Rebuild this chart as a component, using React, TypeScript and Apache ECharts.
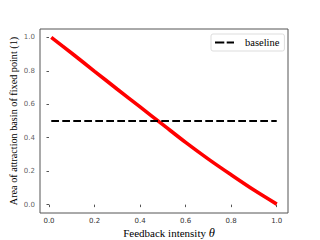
import React, { useEffect, useRef } from "react";
import * as echarts from "echarts";

const thetaValues = [0.01, 0.1, 0.2, 0.3, 0.4, 0.5, 0.6, 0.7, 0.8, 0.9, 1.0];
const areaValues = [1.0, 0.905, 0.797, 0.69, 0.584, 0.478, 0.372, 0.272, 0.178, 0.087, 0.003];
const baselineValues = [0.5, 0.5];
const baselineTheta = [0.01, 1.0];
const xTicks = [0, 0.2, 0.4, 0.6, 0.8, 1.0];
const yTicks = [0, 0.2, 0.4, 0.6, 0.8, 1.0];
const yAxisTitle = "Area of attraction basin of fixed point (1)";
const xAxisTitle = "Feedback intensity ";
const xAxisSymbol = "θ";

const X_MIN = -0.0395;
const X_MAX = 1.0495;

export default function App() {
  const ref = useRef<HTMLDivElement>(null);
  useEffect(() => {
    if (!ref.current) return;
    const chart = echarts.init(ref.current, null, { renderer: "svg" });
    const tickLabel = { fontFamily: "DejaVu Sans", fontSize: 7, color: "#333" };
    chart.setOption({
      animation: false,
      backgroundColor: "#fff",
      grid: {
        left: 40,
        right: 32,
        top: 29,
        bottom: 27,
        show: true,
        borderColor: "#555",
        borderWidth: 1,
        containLabel: false,
        outerBoundsMode: "none",
      },
      legend: {
        data: [{ name: "baseline", icon: "path://M0,0h9.3v2h-9.3z M11.7,0h7.3v2h-7.3z" }],
        left: 211,
        top: 34,
        padding: [3, 5, 3, 4],
        borderColor: "#ddd",
        borderWidth: 1,
        borderRadius: 2,
        itemWidth: 19,
        itemHeight: 2.4,
        itemStyle: { color: "#000" },
        textStyle: { fontFamily: "Liberation Serif", fontSize: 10.5, color: "#000", padding: [0, 0, 0, 6] },
      },
      graphic: [
        {
          type: "text",
          x: 13,
          y: 121,
          rotation: Math.PI / 2,
          style: {
            text: yAxisTitle,
            fontFamily: "Liberation Serif",
            fontSize: 10.2,
            fill: "#000",
            align: "center",
            verticalAlign: "middle",
          },
        },
        {
          type: "text",
          x: 169,
          y: 233,
          style: {
            text: "{a|" + xAxisTitle + "}{b|" + xAxisSymbol + "}",
            align: "center",
            verticalAlign: "middle",
            rich: {
              a: { fontFamily: "Liberation Serif", fontSize: 11, fill: "#000", color: "#000" },
              b: { fontFamily: "Liberation Serif", fontStyle: "italic", fontSize: 12.5, fill: "#000", color: "#000" },
            },
          },
        },
      ],
      xAxis: {
        type: "value",
        min: X_MIN,
        max: X_MAX,
        splitLine: { show: false },
        axisLine: { show: false },
        axisTick: { show: true, inside: false, length: 2.5, customValues: xTicks, lineStyle: { color: "#555" } },
        axisLabel: { customValues: xTicks, formatter: (v: number) => Number(v).toFixed(1), margin: 4, ...tickLabel },
      },
      yAxis: {
        type: "value",
        min: -0.05,
        max: 1.05,
        splitLine: { show: false },
        axisLine: { show: false },
        axisTick: { show: true, inside: false, length: 2.5, customValues: yTicks, lineStyle: { color: "#555" } },
        axisLabel: { show: false },
      },
      series: [
        {
          name: "area",
          type: "line",
          data: thetaValues.map((t, i) => [t, areaValues[i]]),
          symbol: "none",
          smooth: 0.3,
          lineStyle: { color: "#ff0000", width: 3.6 },
          itemStyle: { color: "#ff0000" },
          z: 2,
        },
        {
          name: "baseline",
          type: "line",
          data: baselineTheta.map((t, i) => [t, baselineValues[i]]),
          symbol: "none",
          lineStyle: { color: "#000", width: 2.1, type: [7.7, 3.3] },
          itemStyle: { color: "#000" },
          z: 3,
        },
        {
          name: "yTickLabels",
          type: "scatter",
          data: yTicks.map((v) => [X_MIN, v]),
          symbol: "circle",
          symbolSize: 1,
          silent: true,
          clip: false,
          itemStyle: { color: "rgba(255,255,255,0)" },
          label: {
            show: true,
            position: "left",
            distance: 4.5,
            formatter: (p: any) => Number(p.value[1]).toFixed(1),
            fontFamily: "DejaVu Sans",
            fontSize: 7,
            color: "#333",
          },
          labelLayout: { hideOverlap: false },
          z: 4,
        },
      ],
    });
    return () => chart.dispose();
  }, []);
  return <div ref={ref} style={{ width: 320, height: 240, position: "absolute", left: 0, top: 0 }} />;
}
